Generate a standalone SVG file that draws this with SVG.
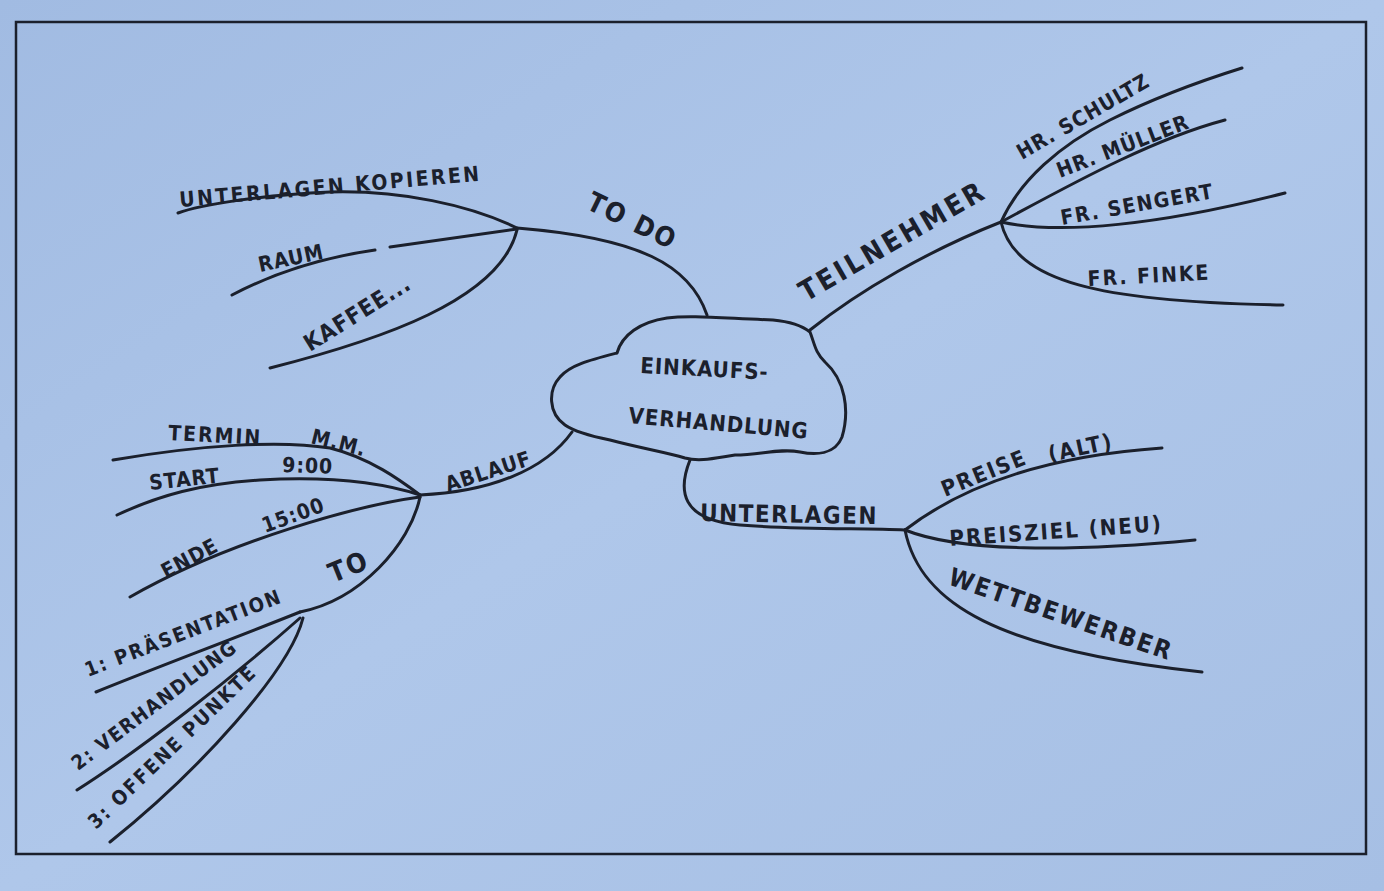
<svg xmlns="http://www.w3.org/2000/svg" width="1384" height="891" viewBox="0 0 1384 891">
<defs>
<linearGradient id="paper" x1="0" y1="0" x2="1" y2="1">
<stop offset="0" stop-color="#a1bbe2"/>
<stop offset="0.5" stop-color="#afc7ea"/>
<stop offset="1" stop-color="#a6bfe4"/>
</linearGradient>
<style>
.ln{fill:none;stroke:#1b202c;stroke-width:3;stroke-linecap:round;stroke-linejoin:round}
.t{font-family:"DejaVu Sans Condensed","DejaVu Sans",sans-serif;font-weight:bold;fill:#1b202c;font-size:21px;letter-spacing:1px}
.b{font-size:27px;letter-spacing:2px}
.s{font-size:20px;letter-spacing:2px}
</style>
</defs>
<rect x="0" y="0" width="1384" height="891" fill="url(#paper)"/>
<rect x="16" y="22" width="1350" height="832" fill="none" stroke="#1b202c" stroke-width="2.5"/>

<g id="connectors">
<path class="ln" d="M707,315 C690,265 640,238 517,228"/>
<path class="ln" d="M517,228 C470,205 400,190 330,192 C260,195 200,205 178,213"/>
<path class="ln" d="M232,295 C270,275 320,258 375,250"/>
<path class="ln" d="M390,247 C440,240 480,234 517,229"/>
<path class="ln" d="M517,230 C500,300 380,340 270,368"/>
<path class="ln" d="M810,330 C860,290 930,250 1001,222"/>
<path class="ln" d="M1001,222 C1020,180 1060,145 1110,120 C1160,95 1210,78 1242,68"/>
<path class="ln" d="M1001,222 C1070,185 1150,140 1225,120"/>
<path class="ln" d="M1001,222 C1060,235 1160,225 1285,193"/>
<path class="ln" d="M1001,222 C1015,282 1100,302 1283,305"/>
<path class="ln" d="M572,432 C545,470 490,492 420,495"/>
<path class="ln" d="M113,460 C200,445 280,440 330,448 C370,458 400,480 420,495"/>
<path class="ln" d="M117,515 C160,495 200,484 260,480 C330,476 380,482 420,495"/>
<path class="ln" d="M130,597 C230,540 360,505 420,497"/>
<path class="ln" d="M420,497 C410,545 360,600 300,612"/>
<path class="ln" d="M300,612 C230,640 150,670 96,692"/>
<path class="ln" d="M300,618 C230,680 140,750 77,790"/>
<path class="ln" d="M303,618 C290,670 200,770 110,842"/>
<path class="ln" d="M690,460 C678,490 680,520 740,525 C800,530 860,528 905,530"/>
<path class="ln" d="M905,530 C970,480 1060,455 1162,448"/>
<path class="ln" d="M905,530 C960,552 1070,552 1195,540"/>
<path class="ln" d="M905,530 C920,605 1000,650 1202,672"/>
</g>

<g id="center">
<path class="ln" d="M617,353 C622,335 640,322 667,318 C690,315 720,318 773,320 C795,322 805,328 810,332 C815,345 815,352 825,362 C845,380 850,410 842,437 C835,455 815,455 800,452 C780,448 760,455 735,455 C715,458 700,462 685,458 C665,452 640,448 610,440 C590,436 575,432 565,425 C548,413 548,390 560,377 C570,365 590,360 617,353 Z"/>
<text class="t" style="font-size:22px" transform="translate(640,373) rotate(3)">EINKAUFS-</text>
<text class="t" style="font-size:22px" transform="translate(628,423) rotate(5)">VERHANDLUNG</text>
</g>

<g id="todo">
<text class="t b" transform="translate(585,208) rotate(26)">TO DO</text>
<text class="t" style="letter-spacing:2.5px" transform="translate(180,207) rotate(-5)">UNTERLAGEN KOPIEREN</text>
<text class="t" transform="translate(260,272) rotate(-12)">RAUM</text>
<text class="t" style="font-size:23px" transform="translate(310,352) rotate(-32)">KAFFEE...</text>
</g>

<g id="teilnehmer">
<text class="t b" style="font-size:28px;letter-spacing:3px" transform="translate(806,302) rotate(-30)">TEILNEHMER</text>
<text class="t" transform="translate(1022,160) rotate(-30)">HR. SCHULTZ</text>
<text class="t" transform="translate(1060,178) rotate(-21)">HR. MÜLLER</text>
<text class="t" style="letter-spacing:1.5px" transform="translate(1062,225) rotate(-10)">FR. SENGERT</text>
<text class="t" style="letter-spacing:2px" transform="translate(1088,286) rotate(-3)">FR. FINKE</text>
</g>

<g id="ablauf">
<text class="t" transform="translate(448,492) rotate(-18)">ABLAUF</text>
<text class="t" style="letter-spacing:2px" transform="translate(168,440) rotate(3)">TERMIN</text>
<text class="t" transform="translate(310,443) rotate(14)">M.M.</text>
<text class="t" transform="translate(150,490) rotate(-6)">START</text>
<text class="t" transform="translate(282,472) rotate(2)">9:00</text>
<text class="t" transform="translate(166,579) rotate(-28)">ENDE</text>
<text class="t" transform="translate(265,533) rotate(-20)">15:00</text>
<text class="t b" transform="translate(333,583) rotate(-22)">TO</text>
<text class="t s" transform="translate(88,677) rotate(-21)">1: PRÄSENTATION</text>
<text class="t s" style="letter-spacing:1.5px" transform="translate(78,771) rotate(-37)">2: VERHANDLUNG</text>
<text class="t s" transform="translate(96,830) rotate(-44)">3: OFFENE PUNKTE</text>
</g>

<g id="unterlagen">
<text class="t" style="font-size:24px;letter-spacing:1.5px" transform="translate(700,521) rotate(1)">UNTERLAGEN</text>
<text class="t" style="font-size:22px;letter-spacing:2px" transform="translate(945,497) rotate(-22)">PREISE</text>
<text class="t" style="font-size:22px;letter-spacing:2px" transform="translate(1050,462) rotate(-12)">(ALT)</text>
<text class="t" style="font-size:22px;letter-spacing:2px" transform="translate(950,546) rotate(-4)">PREISZIEL (NEU)</text>
<text class="t" style="font-size:25px;letter-spacing:2px" transform="translate(947,584) rotate(19)">WETTBEWERBER</text>
</g>
</svg>
